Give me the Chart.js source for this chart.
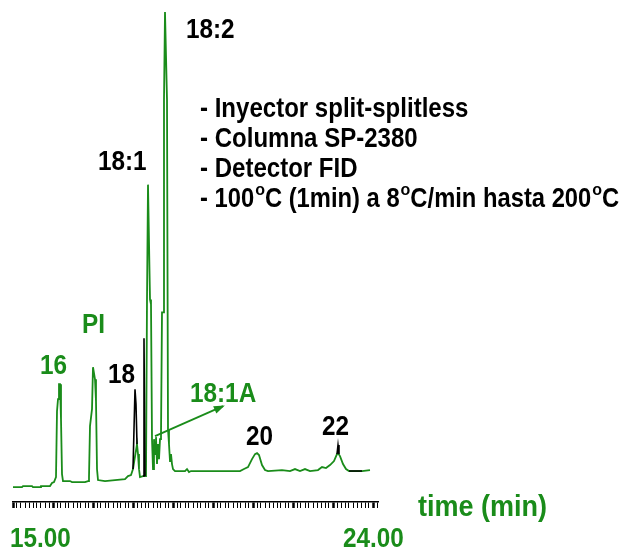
<!DOCTYPE html>
<html>
<head>
<meta charset="utf-8">
<script src="https://cdn.jsdelivr.net/npm/chart.js@4.4.0/dist/chart.umd.min.js"></script>
<style>
  html, body { margin: 0; padding: 0; background: #fff; }
  #wrap { width: 630px; height: 548px; position: relative; }
</style>
</head>
<body>
<div id="wrap"><canvas id="gc"></canvas></div>
<script>
// ===== Data =====

// green trace: retention time (min) and detector signal
const traceTime = [
  15.000, 15.225, 15.250, 15.475, 15.500, 15.675, 15.700, 15.925, 15.975, 16.025,
  16.075, 16.100, 16.125, 16.150, 16.175, 16.200, 16.225, 16.250, 16.425, 16.475,
  16.800, 16.875, 16.900, 16.925, 16.975, 17.000, 17.025, 17.050, 17.075, 17.100,
  17.125, 17.300, 17.550, 17.800, 17.875, 17.950, 18.000, 18.100, 18.125, 18.150,
  18.175, 18.250, 18.300, 18.325, 18.350, 18.375, 18.400, 18.425, 18.450, 18.475,
  18.500, 18.525, 18.550, 18.575, 18.600, 18.625, 18.650, 18.675, 18.700, 18.725,
  18.750, 18.775, 18.800, 18.825, 18.850, 18.875, 18.900, 18.925, 18.950, 18.975,
  19.000, 19.050, 19.300, 19.350, 19.400, 19.450, 20.675, 20.775, 20.875, 20.975,
  21.050, 21.100, 21.150, 21.225, 21.300, 21.375, 21.725, 21.925, 22.050, 22.175,
  22.300, 22.425, 22.625, 22.725, 22.825, 22.925, 23.025, 23.100, 23.125, 23.175,
  23.250, 23.325, 23.400, 23.725, 23.925
];
const traceSignal = [
  3.0, 3.0, 3.2, 3.2, 3.0, 3.0, 3.2, 3.2, 3.8, 4.0,
  5.0, 18.2, 20.6, 23.6, 23.6, 16.6, 5.6, 4.2, 4.2, 4.0,
  4.0, 4.2, 5.0, 15.2, 18.6, 27.0, 27.0, 24.6, 20.2, 6.6,
  4.4, 4.2, 4.4, 4.6, 5.2, 5.4, 6.6, 11.6, 9.6, 6.6,
  5.0, 5.2, 5.2, 5.4, 40.6, 63.6, 63.6, 40.6, 39.6, 12.6,
  6.6, 12.6, 9.6, 13.0, 7.6, 11.6, 8.6, 12.6, 13.4, 38.0,
  38.0, 80.6, 98.2, 98.2, 80.6, 14.6, 11.6, 8.2, 9.6, 7.6,
  6.6, 6.2, 6.2, 6.6, 6.0, 6.2, 6.2, 6.6, 7.0, 8.6,
  9.6, 9.8, 9.4, 7.4, 6.4, 6.2, 6.4, 6.2, 6.6, 6.2,
  6.6, 6.2, 6.4, 7.0, 6.8, 7.4, 8.2, 9.6, 9.8, 9.2,
  7.6, 6.6, 6.2, 6.2, 6.4
];

// black overlay pieces (null = gap)
const blackTime   = [18.000, 18.050, 18.075, 18.100, 18.200, 18.250, 18.275, 18.300, 23.000, 23.100, 23.125, 23.150, 23.300, 23.400, 23.725];
const blackSignal = [6.6, 22.6, 19.6, 11.6, null, 5.2, 32.8, 5.2, null, 9.6, 11.4, 9.6, null, 6.2, 6.2];

// arrow pointing at the 18:1A group
const arrowTime   = [18.55, 20.25];
const arrowSignal = [13.2, 19.2];

// axis labels
const tickValues = [15, 24];
const tickLabels = ['15.00', '24.00'];

const GREEN = '#1a8c1a';

function pts(xs, ys) {
  return xs.map((x, i) => ({ x: x, y: ys[i] }));
}

// ===== Text / arrowhead plugin =====

function drawText(ctx, txt, x, y, size, color, sx) {
  sx = sx || 0.9;
  ctx.save();
  ctx.font = 'bold ' + size + 'px "Liberation Sans", Arial, sans-serif';
  ctx.fillStyle = color;
  ctx.textBaseline = 'alphabetic';
  ctx.translate(x, y);
  ctx.scale(sx, 1);
  ctx.fillText(txt, 0, 0);
  const w = ctx.measureText(txt).width * sx;
  ctx.restore();
  return w;
}

// a line of text where "o" pieces are superscript degrees
function drawDegreeLine(ctx, parts, x, y) {
  let cx = x;
  parts.forEach(p => {
    if (p === 'o') cx += drawText(ctx, 'o', cx + 1, y - 12, 16, '#000', 1) + 1;
    else cx += drawText(ctx, p, cx, y, 27, '#000', 0.88);
  });
}

const labelsPlugin = {
  id: 'labels',
  afterDraw(chart) {
    const ctx = chart.ctx;
    const xs = chart.scales.x;

    // arrowhead at the end of the arrow dataset
    const meta = chart.getDatasetMeta(2).data;
    const a = meta[0], b = meta[1];
    const ang = Math.atan2(b.y - a.y, b.x - a.x);
    ctx.save();
    ctx.fillStyle = GREEN;
    ctx.translate(b.x, b.y);
    ctx.rotate(ang);
    ctx.beginPath();
    ctx.moveTo(2, 0);
    ctx.lineTo(-9, -4);
    ctx.lineTo(-9, 4);
    ctx.closePath();
    ctx.fill();
    ctx.restore();

    // peak names
    drawText(ctx, '18:2', 186, 38, 27, '#000');
    drawText(ctx, '18:1', 98, 170, 27, '#000');
    drawText(ctx, 'PI', 82, 333, 27, GREEN);
    drawText(ctx, '16', 40, 374, 27, GREEN);
    drawText(ctx, '18', 108, 383, 27, '#000');
    drawText(ctx, '18:1A', 190, 402, 27, GREEN);
    drawText(ctx, '20', 246, 445, 27, '#000');
    drawText(ctx, '22', 322, 435, 27, '#000');

    // method notes
    drawText(ctx, '- Inyector split-splitless', 200, 117, 27, '#000', 0.89);
    drawText(ctx, '- Columna SP-2380', 200, 147, 27, '#000', 0.89);
    drawText(ctx, '- Detector FID', 200, 177, 27, '#000', 0.89);
    drawDegreeLine(ctx, ['- 100', 'o', 'C (1min) a 8', 'o', 'C/min hasta 200', 'o', 'C'], 200, 207);

    // axis title and end labels
    drawText(ctx, 'time (min)', 418, 516, 30, GREEN);
    tickValues.forEach((v, i) => {
      const px = xs.getPixelForValue(v);
      const off = i === 0 ? -3 : -30;
      drawText(ctx, tickLabels[i], px + off, 547, 27, GREEN);
    });
  }
};

// ===== Chart =====

new Chart(document.getElementById('gc'), {
  type: 'line',
  data: {
    datasets: [
      {
        data: pts(blackTime, blackSignal),
        borderColor: '#000',
        borderWidth: 1.6,
        spanGaps: false,
        order: 0
      },
      {
        data: pts(traceTime, traceSignal),
        borderColor: GREEN,
        borderWidth: 1.8,
        order: 1
      },
      {
        data: pts(arrowTime, arrowSignal),
        borderColor: GREEN,
        borderWidth: 1.8,
        order: 2
      }
    ]
  },
  options: {
    responsive: true,
    maintainAspectRatio: false,
    animation: false,
    layout: { padding: { left: 13, right: 252, top: 3, bottom: 40 } },
    elements: {
      point: { radius: 0 },
      line: { tension: 0 }
    },
    plugins: {
      legend: { display: false },
      tooltip: { enabled: false }
    },
    scales: {
      x: {
        type: 'linear',
        min: 15,
        max: 24.125,
        afterBuildTicks: axis => {
          const t = [];
          for (let i = 0; i <= 91; i++) t.push({ value: 15 + i / 10 });
          axis.ticks = t;
        },
        ticks: { display: false },
        grid: {
          drawOnChartArea: false,
          drawTicks: true,
          tickLength: 6,
          tickColor: '#000',
          tickWidth: ctx => (Math.abs(ctx.tick.value - Math.round(ctx.tick.value)) < 0.01 ? 2.5 : 1)
        },
        border: { display: true, color: '#000', width: 1.5 }
      },
      y: {
        display: false,
        min: 0,
        max: 100
      }
    }
  },
  plugins: [labelsPlugin]
});
</script>
</body>
</html>
